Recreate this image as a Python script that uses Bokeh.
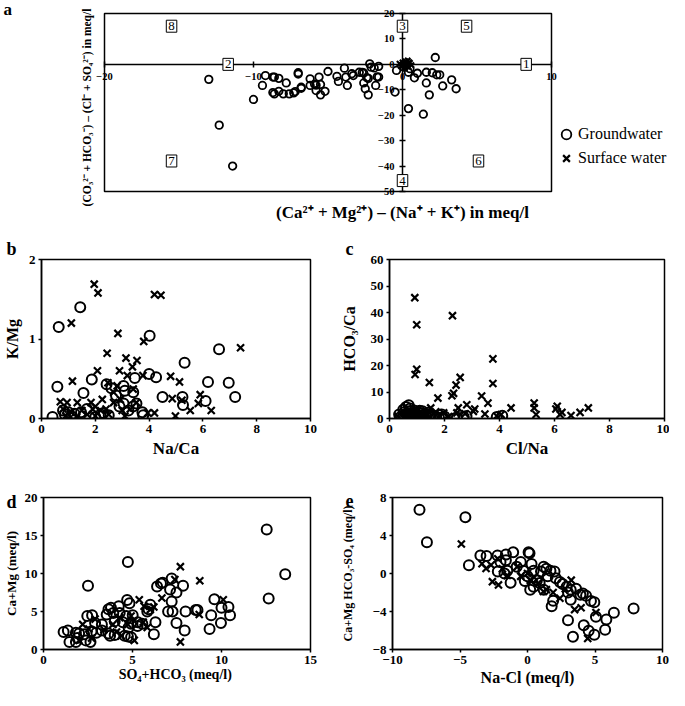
import math
from bokeh.plotting import figure
from bokeh.models import Range1d, FixedTicker, Label, Legend, LegendItem
from bokeh.layouts import column, row
from bokeh.embed import file_html
from bokeh.resources import INLINE

FONT = "Liberation Serif"

# ---------------- data ----------------
# panel a : (Ca+Mg)-(Na+K) vs (CO3+HCO3)-(Cl+SO4)
a_gw_x = [-13.0, -12.3, -11.4, -10.0, -9.2, -8.7, -9.4, -8.7, -8.6, -8.3, -7.8, -8.0, -7.3, -7.0,
          -6.8, -6.2, -6.2, -5.9, -5.8, -5.6, -5.5, -5.8, -5.2, -5.5, -5.0, -4.4, -3.9, -3.8, -4.3,
          -3.7, -3.3, -2.9, -2.7, -2.6, -3.4, -2.6, -2.4, -2.3, -2.2, -2.1, -1.8, -2.5, -2.3, -1.6,
          -1.6, -1.7, -0.5, -0.4, 0.1, 0.5, 0.4, 1.0, 0.8, 1.6, 1.6, 1.8, 2.2, 2.0, 2.3, 2.5, 2.7,
          3.3, 3.6, 0.4, 1.4, -1.9, -8.6, -8.3, -7.0, -7.6, -7.2, -6.8]
a_gw_y = [-5.9, -23.9, -40.0, -13.8, -4.4, -5.0, -8.3, -11.1, -11.6, -10.6, -7.3, -11.6, -11.2, -3.8,
          -9.0, -5.7, -8.3, -7.8, -8.2, -5.0, -7.9, -10.3, -10.6, -12.0, -2.8, -4.7, -1.5, -5.0, -6.7,
          -8.3, -4.4, -3.1, -3.2, -3.4, -3.7, -7.3, -5.2, -5.5, 0.2, -1.1, -8.3, -9.6, -12.0, -5.0,
          -0.8, -4.9, -10.9, -2.4, -1.1, -1.7, -3.1, -3.5, -5.3, -3.1, -7.3, -12.0, 2.7, -3.3, -4.1,
          -4.1, -8.5, -6.1, -9.6, -17.4, -19.6, -1.4, -5.0, -5.5, -3.3, -11.6, -10.7, -9.4]
a_sw_x = [-0.2, 0.0, 0.1, 0.2, 0.3, 0.4, 0.5, 0.6, 0.15, 0.35, 0.25, -0.1, 0.45, 0.05]
a_sw_y = [0.3, 0.8, -0.4, 1.2, 0.2, -0.9, 0.6, -0.3, -1.6, 1.5, -0.1, -0.8, 0.9, 0.1]
quad_text = ["1", "2", "3", "4", "5", "6", "7", "8"]
quad_x = [8.3, -11.7, 0.0, 0.0, 4.3, 5.1, -15.5, -15.5]
quad_y = [0.0, 0.0, 15.0, -45.7, 15.0, -38.0, -38.0, 15.0]
x_ticks_a = [-20, -10, 0, 10]
y_ticks_a = [20, 10, 0, -10, -20, -30, -40, -50]

# panel b : Na/Ca vs K/Mg
b_gw_x = [1.44, 0.64, 4.02, 6.6, 5.32, 0.59, 1.87, 4.0, 4.26, 3.47, 6.19, 6.96, 7.2, 4.5, 5.24, 6.1,
          1.56, 2.42, 3.05, 2.77, 3.41, 3.05, 3.53, 1.69, 5.26, 3.75, 0.41, 0.87, 1.23, 1.47, 2.2,
          2.5, 3.23, 3.78, 0.8, 1.0, 2.3, 2.0, 3.4, 2.6, 3.1, 1.1, 2.9]
b_gw_y = [1.4, 1.15, 1.04, 0.87, 0.7, 0.4, 0.49, 0.56, 0.52, 0.51, 0.46, 0.45, 0.27, 0.27, 0.27, 0.22,
          0.32, 0.43, 0.41, 0.29, 0.33, 0.19, 0.19, 0.12, 0.17, 0.08, 0.02, 0.05, 0.06, 0.08, 0.05,
          0.04, 0.1, 0.04, 0.1, 0.08, 0.07, 0.02, 0.15, 0.38, 0.35, 0.03, 0.15]
b_sw_x = [1.96, 2.1, 4.2, 4.44, 1.11, 2.84, 3.8, 7.4, 2.44, 3.14, 3.55, 3.38, 2.08, 2.9, 3.19, 3.77,
          4.8, 5.13, 1.15, 2.47, 2.81, 3.41, 5.9, 4.86, 5.22, 5.83, 5.53, 6.31, 4.2, 3.95, 4.98,
          0.7, 0.95, 1.33, 1.84, 2.26, 2.68, 2.93, 3.53, 0.8, 1.1, 1.5, 1.7, 2.2, 2.5, 3.1, 3.3,
          0.9, 1.3, 2.0, 2.4, 2.0, 3.0, 1.9, 2.68]
b_sw_y = [1.69, 1.58, 1.56, 1.55, 1.2, 1.07, 0.97, 0.89, 0.82, 0.76, 0.73, 0.65, 0.6, 0.6, 0.54, 0.54,
          0.53, 0.46, 0.47, 0.45, 0.41, 0.37, 0.3, 0.25, 0.23, 0.19, 0.1, 0.1, 0.07, 0.07, 0.03,
          0.21, 0.2, 0.2, 0.2, 0.24, 0.2, 0.24, 0.2, 0.12, 0.08, 0.1, 0.05, 0.1, 0.05, 0.03, 0.12,
          0.03, 0.02, 0.15, 0.12, 0.03, 0.1, 0.12, 0.33]

# panel c : Cl/Na vs HCO3/Ca
c_gw_x = [0.7, 0.6, 0.5, 0.55, 0.6, 0.7, 0.75, 0.8, 0.85, 0.9, 0.95, 1.0, 1.05, 1.1, 1.15, 1.2, 1.25,
          1.3, 1.35, 1.45, 1.5, 1.6, 1.7, 1.8, 0.4, 0.5, 0.65, 0.7, 0.85, 1.0, 1.2, 0.35, 2.35, 2.45,
          2.7, 2.8, 3.9, 4.1, 0.75, 0.9, 1.1, 2.0, 1.9, 0.55, 1.4]
c_gw_y = [5.0, 4.3, 3.3, 2.5, 1.8, 1.2, 2.8, 0.5, 1.6, 2.2, 0.9, 1.5, 2.4, 0.6, 1.9, 1.2, 0.3,
          1.6, 0.8, 1.3, 0.4, 1.0, 0.6, 0.3, 0.6, 1.0, 0.3, 1.6, 0.2, 0.4, 2.7, 1.5, 0.0, 0.4,
          0.6, 0.9, 0.6, 1.0, 3.8, 3.0, 2.9, 0.8, 1.5, 0.1, 2.2]
c_sw_x = [0.92, 0.99, 2.29, 0.99, 0.93, 1.45, 3.76, 3.76, 2.57, 2.42, 2.33, 2.27, 3.35, 1.76, 3.58,
          3.05, 5.26, 6.1, 4.42, 7.23, 6.93, 6.27, 6.6, 5.33, 3.1, 2.75, 3.47, 4.06, 2.5, 1.68, 1.97,
          2.15, 1.25, 0.3, 2.81, 3.9, 5.26, 1.5, 2.45, 6.2, 0.6, 0.8, 1.2, 6.05]
c_sw_y = [45.6, 35.4, 38.8, 18.6, 16.6, 13.6, 22.5, 13.2, 15.5, 12.6, 9.5, 8.6, 8.5, 7.7, 5.8,
          2.7, 5.8, 4.6, 4.0, 4.0, 2.3, 2.3, 1.1, 1.5, 3.6, 1.8, 1.7, 1.5, 4.0, 2.5, 2.1,
          0.7, 1.7, 0.9, 5.2, 0.9, 4.0, 4.0, 2.1, 1.5, 2.0, 1.2, 0.6, 3.6]

# panel d : SO4+HCO3 vs Ca+Mg
d_gw_x = [12.54, 13.58, 12.65, 4.74, 2.5, 6.38, 6.6, 6.7, 7.2, 7.11, 7.47, 7.84, 7.2, 7.0, 7.25, 7.98,
          8.55, 8.65, 9.6, 10.0, 10.39, 10.48, 9.42, 9.97, 9.33, 7.47, 7.93, 6.29, 6.2, 5.83, 6.0,
          4.83, 4.23, 3.79, 3.55, 4.78, 2.46, 2.73, 2.9, 3.28, 1.13, 1.37, 1.82, 2.0, 2.28, 1.46,
          1.82, 2.37, 2.64, 3.65, 3.74, 4.0, 4.56, 4.74, 4.92, 5.3, 5.55, 3.65, 3.92, 4.28, 4.65,
          5.01, 4.0, 4.46, 4.92, 5.28, 2.7, 2.97, 3.28, 4.7, 5.9, 1.9]
d_gw_y = [15.8, 9.9, 6.7, 11.5, 8.4, 8.3, 8.7, 8.8, 9.35, 7.9, 7.5, 8.4, 6.3, 5.0, 5.0, 5.0,
          5.2, 5.2, 6.6, 5.5, 5.6, 4.5, 4.5, 3.5, 2.7, 3.5, 2.5, 3.6, 2.0, 5.0, 5.9,
          6.1, 5.7, 5.5, 4.6, 2.9, 4.4, 4.5, 3.5, 3.3, 2.3, 2.5, 2.2, 2.1, 2.0, 1.0,
          1.0, 1.2, 1.0, 2.1, 1.8, 1.9, 1.8, 1.7, 1.6, 3.6, 3.4, 5.3, 4.8, 4.8, 4.4,
          4.5, 3.7, 3.6, 3.4, 3.1, 2.4, 2.2, 2.5, 6.5, 5.3, 1.5]
d_sw_x = [7.69, 8.78, 10.1, 8.75, 7.69, 6.65, 6.2, 5.38, 5.83, 5.1, 4.37, 3.9, 2.2, 2.55, 2.0, 4.74,
          4.28, 4.92, 5.65, 6.0, 7.38, 2.7, 3.4, 4.1, 5.6, 2.9]
d_sw_y = [10.9, 9.05, 6.55, 4.6, 1.0, 6.77, 5.6, 6.55, 2.9, 1.2, 1.8, 3.3, 3.3, 2.7, 1.2, 3.3,
          4.2, 4.4, 5.7, 5.25, 9.2, 1.5, 2.6, 2.3, 3.6, 4.0]

# panel e : Na-Cl vs (Ca+Mg)-(HCO3+SO4)
e_gw_x = [-8.0, -4.6, -7.45, -4.34, 7.86, 6.4, 5.84, 5.75, 4.95, 3.37, 4.17, 3.0, 5.07, 4.53, 1.79,
          1.9, 3.2, 3.92, 4.34, 4.95, -3.49, -3.03, -2.22, -1.6, -1.06, 0.08, 0.15, -2.0, -1.6, -1.5,
          -2.2, -1.7, -1.25, -0.5, -0.3, 0.0, 0.2, 0.45, 0.7, 1.2, 1.4, 1.7, 2.0, 2.1, 2.4, 2.9,
          3.2, 3.6, 4.1, 4.7, 0.45, 0.9, 1.2, -0.8, 0.3, 1.0, 1.5, 2.6, -0.2, 3.0]
e_gw_y = [6.72, 5.93, 3.28, 0.86, -3.69, -4.14, -4.83, -5.93, -6.45, -6.66, -5.45, -4.93, -4.55, -6.03,
          -3.45, -2.86, -2.76, -2.24, -2.34, -3.03, 1.9, 1.83, 1.9, 2.0, 2.24, 2.24, 2.14, 1.2, 1.4,
          0.3, 0.2, 0.0, -0.97, 1.2, 0.3, -0.3, -1.7, 0.3, -0.7, 0.7, 0.5, 0.3, 0.2, -0.5, -0.9,
          -1.4, -1.7, -1.6, -2.1, -2.9, -1.4, -1.0, -1.7, 0.7, 1.0, 0.2, -0.3, -1.1, -0.8, -2.0]
e_sw_x = [-4.9, -3.37, -3.07, -2.6, -2.15, 3.24, 3.49, 3.97, 5.07, 4.46, 1.18, 2.4, -2.2, -1.86,
          -1.5, -0.77, 0.0, 0.2, 0.8, 1.4, 1.9, -0.5, 0.5, 2.8, -2.7]
e_sw_y = [3.1, 1.03, 0.52, -0.86, -1.2, -0.7, -3.8, -3.6, -4.1, -6.83, -1.9, -2.6, 1.55, 0.5,
          -0.2, 0.7, 0.0, -0.7, -1.0, -1.7, -2.0, -0.3, -0.4, -1.6, 0.9]


def style_common(p):
    p.grid.visible = False
    p.background_fill_color = "white"
    p.border_fill_color = "white"
    for ax in p.axis:
        ax.axis_line_color = "black"
        ax.axis_line_width = 1.5
        ax.major_tick_line_color = "black"
        ax.major_tick_line_width = 1.5
        ax.minor_tick_line_color = None
        ax.major_label_text_font = FONT
        ax.major_label_text_font_style = "bold"
        ax.major_label_text_color = "black"
        ax.axis_label_text_font = FONT
        ax.axis_label_text_font_style = "bold"
        ax.axis_label_text_color = "black"


def pts(p, gx, gy, sx, sy, size=10, lw=2.0):
    r1 = p.scatter(gx, gy, marker="circle", size=size, fill_color=None,
                   line_color="black", line_width=lw)
    r2 = p.scatter(sx, sy, marker="x", size=size, line_color="black", line_width=2.2)
    return r1, r2


def small_panel(width, height, xr, yr, xt, yt, left, right, top, bottom,
                xlabel, ylabel, xl_size, yl_size, y_std, x_std, letter, letter_off,
                letter_standoff=1, tick_size="13px"):
    p = figure(width=width, height=height, x_range=Range1d(*xr), y_range=Range1d(*yr),
               output_backend="svg", toolbar_location=None,
               min_border_left=left, min_border_right=right,
               min_border_top=top, min_border_bottom=bottom)
    style_common(p)
    p.outline_line_color = "black"
    p.outline_line_width = 1.5
    p.outline_line_alpha = 1.0
    p.xaxis.ticker = FixedTicker(ticks=xt, minor_ticks=[])
    p.yaxis.ticker = FixedTicker(ticks=yt, minor_ticks=[])
    for ax in p.axis:
        ax.major_tick_in = 0
        ax.major_tick_out = 3
        ax.major_label_standoff = 3
        ax.major_label_text_font_size = tick_size
    p.xaxis.axis_label = xlabel
    p.yaxis.axis_label = ylabel
    p.xaxis.axis_label_text_font_size = xl_size
    p.yaxis.axis_label_text_font_size = yl_size
    p.yaxis.axis_label_standoff = y_std
    p.xaxis.axis_label_standoff = x_std
    p.title.text = letter
    p.title.align = "left"
    p.title.offset = letter_off
    try:
        p.title.standoff = letter_standoff
    except Exception:
        p.title.standoff = 0
    p.title.text_font = FONT
    p.title.text_font_style = "bold"
    p.title.text_font_size = "18px"
    p.title.text_color = "black"
    return p


# ---------------- panel a ----------------
# whole canvas is the plotting area; the drawn box marks the data limits
A_W, A_H = 669, 236
ax_px = 447.0 / 30.0          # px per unit (x)
ay_px = 178.0 / 70.0          # px per unit (y)
xa0 = min(x_ticks_a) - 104 / ax_px
xa1 = max(x_ticks_a) + 118 / ax_px
ya1 = max(y_ticks_a) + 13 / ay_px
ya0 = min(y_ticks_a) - 45 / ay_px
pa = figure(width=A_W, height=A_H, x_range=Range1d(xa0, xa1), y_range=Range1d(ya0, ya1),
            output_backend="svg", toolbar_location=None,
            min_border_left=0, min_border_right=0, min_border_top=0, min_border_bottom=0)
style_common(pa)
pa.outline_line_color = None
pa.quad(left=[min(x_ticks_a)], right=[max(x_ticks_a)], bottom=[min(y_ticks_a)], top=[max(y_ticks_a)],
        fill_color=None, line_color="black", line_width=1.5)
pa.xaxis.fixed_location = 0
pa.yaxis.fixed_location = 0
pa.xaxis.bounds = (min(x_ticks_a), max(x_ticks_a))
pa.yaxis.bounds = (min(y_ticks_a), max(y_ticks_a))
pa.xaxis.ticker = FixedTicker(ticks=x_ticks_a, minor_ticks=[])
pa.yaxis.ticker = FixedTicker(ticks=y_ticks_a, minor_ticks=[])
for ax in pa.axis:
    ax.major_tick_in = 3
    ax.major_tick_out = 3
    ax.major_label_text_font_size = "10.5px"
pa.xaxis.major_label_standoff = 6
pa.yaxis.major_label_standoff = 5
ga, sa = pts(pa, a_gw_x, a_gw_y, a_sw_x, a_sw_y, size=7.5, lw=1.8)
for t, qx, qy in zip(quad_text, quad_x, quad_y):
    pa.add_layout(Label(x=qx, y=qy, text=t, text_font=FONT, text_font_size="13px",
                        text_align="center", text_baseline="middle", text_color="black",
                        border_line_color="black", border_line_width=1,
                        background_fill_color="white", padding=2))
pa.add_layout(Label(x=0, y=min(y_ticks_a) - 21 / ay_px,
                    text="(Ca²⁺ + Mg²⁺) – (Na⁺ + K⁺) in meq/l",
                    text_font=FONT, text_font_style="bold", text_font_size="17px",
                    text_align="center", text_baseline="middle", text_color="black"))
pa.add_layout(Label(x=min(x_ticks_a) - 18 / ax_px, y=max(y_ticks_a) - 94 / ay_px, angle=math.pi / 2,
                    text="(CO₃²⁻ + HCO₃⁻) – (Cl⁻ + SO₄²⁻) in meq/l",
                    text_font=FONT, text_font_style="bold", text_font_size="11.5px",
                    text_align="center", text_baseline="middle", text_color="black"))
pa.add_layout(Label(x=xa0 + 3 / ax_px, y=max(y_ticks_a) + 4 / ay_px, text="a",
                    text_font=FONT, text_font_style="bold", text_font_size="17px",
                    text_align="left", text_baseline="middle", text_color="black"))
leg = Legend(items=[LegendItem(label="Groundwater", renderers=[ga]),
                    LegendItem(label="Surface water", renderers=[sa])],
             location=(554, 66), border_line_color=None, background_fill_alpha=0,
             padding=0, margin=0, spacing=0, glyph_width=24, glyph_height=24,
             label_height=24, label_standoff=0, label_text_font=FONT,
             label_text_font_size="16px", label_text_color="black")
pa.add_layout(leg, "center")

# ---------------- panel b ----------------
pb = small_panel(337, 234, (0, 10), (0, 2), [0, 2, 4, 6, 8, 10], [0, 1, 2],
                 36, 27, 22, 50, "Na/Ca", "K/Mg", "17px", "16px", 5, 3, "b", -35)
pts(pb, b_gw_x, b_gw_y, b_sw_x, b_sw_y)

# ---------------- panel c ----------------
pc = small_panel(332, 234, (0, 10), (0, 60), [0, 2, 4, 6, 8, 10], [0, 10, 20, 30, 40, 50, 60],
                 48, 5, 20, 52, "Cl/Na", "HCO₃/Ca", "17px", "16px", 10, 3, "c", -44)
pts(pc, c_gw_x, c_gw_y, c_sw_x, c_sw_y)

# ---------------- panel d ----------------
pd_ = small_panel(337, 220, (0, 15), (0, 20), [0, 5, 10, 15], [0, 5, 10, 15, 20],
                  36, 27, 27, 38, "SO₄+HCO₃  (meq/l)", "Ca+Mg (meq/l)", "14px", "13px", 3, 0, "d", -37,
                  letter_standoff=-28)
pts(pd_, d_gw_x, d_gw_y, d_sw_x, d_sw_y)

# ---------------- panel e ----------------
pe = small_panel(332, 220, (-10, 10), (-8, 8), [-10, -5, 0, 5, 10], [-8, -4, 0, 4, 8],
                 50, 7, 27, 41, "Na-Cl (meq/l)", "Ca+Mg HCO₃-SO₄ (meq/l)", "16px", "12px", 15, 2, "e", -47,
                 letter_standoff=-18)
pts(pe, e_gw_x, e_gw_y, e_sw_x, e_sw_y)

layout = column(pa, row(pb, pc), row(pd_, pe))
open("out.html", "w").write(file_html(layout, INLINE))
